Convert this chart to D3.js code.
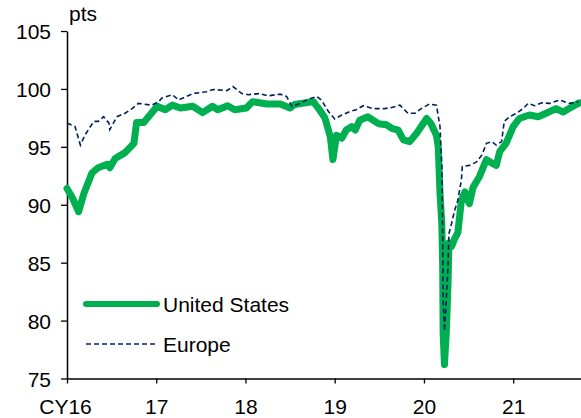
<!DOCTYPE html>
<html>
<head>
<meta charset="utf-8">
<script src="https://cdn.jsdelivr.net/npm/d3@7"></script>
<style>
  body { margin: 0; background: #fff; }
  svg text { font-family: "Liberation Sans", Arial, sans-serif; fill: #000; }
</style>
</head>
<body>
<div id="chart"></div>
<script>
// year fraction / value pairs
const usYears = [2016.00, 2016.06, 2016.13, 2016.19, 2016.28, 2016.35, 2016.45, 2016.48, 2016.54, 2016.65,
    2016.75, 2016.78, 2016.86, 2016.93, 2017.01, 2017.10, 2017.18, 2017.27, 2017.41, 2017.52,
    2017.63, 2017.69, 2017.80, 2017.88, 2018.01, 2018.08, 2018.24, 2018.39, 2018.50, 2018.55,
    2018.76, 2018.83, 2018.89, 2018.95, 2018.98, 2019.02, 2019.08, 2019.13, 2019.19, 2019.23,
    2019.28, 2019.37, 2019.49, 2019.58, 2019.64, 2019.71, 2019.77, 2019.84, 2019.92, 2020.03,
    2020.08, 2020.14, 2020.16, 2020.18, 2020.20, 2020.21, 2020.215, 2020.23, 2020.25, 2020.27,
    2020.28, 2020.31, 2020.34, 2020.38, 2020.42, 2020.46, 2020.49, 2020.51, 2020.55, 2020.62,
    2020.70, 2020.76, 2020.81, 2020.85, 2020.92, 2021.00, 2021.07, 2021.18, 2021.28, 2021.37,
    2021.48, 2021.56, 2021.67, 2021.74];
const usValues = [91.4, 90.6, 89.4, 91.0, 92.75, 93.2, 93.5, 93.2, 94.0, 94.5,
    95.3, 97.1, 97.1, 97.75, 98.5, 98.2, 98.6, 98.35, 98.5, 97.95,
    98.5, 98.2, 98.55, 98.2, 98.35, 98.9, 98.7, 98.7, 98.35, 98.65,
    98.9, 98.2, 97.5, 95.9, 93.9, 96.0, 95.75, 96.45, 96.75, 96.45,
    97.3, 97.6, 97.0, 96.9, 96.6, 96.45, 95.6, 95.45, 96.2, 97.45,
    97.0, 96.0, 95.0, 91.0, 88.4, 84.65, 78.9, 76.2, 78.9, 83.2,
    86.7, 86.4, 87.0, 87.6, 90.4, 91.1, 90.4, 90.1, 91.5, 92.4,
    93.9, 93.6, 93.4, 94.6, 95.3, 96.75, 97.45, 97.75, 97.6, 97.9,
    98.3, 98.0, 98.5, 98.8];

const euYears = [2016.00, 2016.09, 2016.15, 2016.20, 2016.30, 2016.35, 2016.41, 2016.47, 2016.48, 2016.56,
    2016.65, 2016.73, 2016.80, 2016.95, 2017.03, 2017.06, 2017.18, 2017.25, 2017.41, 2017.56,
    2017.64, 2017.79, 2017.86, 2017.96, 2018.03, 2018.16, 2018.25, 2018.39, 2018.46, 2018.52,
    2018.61, 2018.70, 2018.80, 2018.85, 2018.93, 2019.00, 2019.08, 2019.17, 2019.24, 2019.32,
    2019.43, 2019.56, 2019.64, 2019.73, 2019.82, 2019.90, 2019.97, 2020.06, 2020.14, 2020.18,
    2020.20, 2020.21, 2020.215, 2020.23, 2020.25, 2020.27, 2020.28, 2020.31, 2020.34, 2020.38,
    2020.42, 2020.43, 2020.51, 2020.59, 2020.65, 2020.70, 2020.76, 2020.81, 2020.87, 2020.90,
    2020.96, 2021.04, 2021.11, 2021.17, 2021.24, 2021.32, 2021.41, 2021.52, 2021.63, 2021.73];
const euValues = [97.05, 96.75, 95.15, 96.0, 97.2, 97.2, 97.6, 97.05, 96.5, 97.6,
    97.9, 98.3, 98.75, 98.6, 98.9, 99.2, 99.5, 99.05, 99.6, 99.75,
    99.95, 99.85, 100.2, 99.6, 99.5, 99.6, 99.4, 99.55, 99.35, 98.5,
    98.75, 99.1, 99.35, 99.05, 98.05, 97.4, 97.75, 98.05, 98.2, 98.55,
    98.3, 98.3, 98.4, 98.6, 97.9, 97.9, 98.3, 98.7, 98.6, 96.75,
    93.3, 87.55, 81.8, 79.1, 81.8, 84.65, 87.5, 88.4, 89.4, 90.4,
    92.15, 93.3, 93.4, 93.7, 94.3, 95.3, 95.45, 95.15, 95.45, 97.2,
    97.6, 97.9, 98.3, 98.75, 98.55, 98.8, 98.75, 99.05, 98.75, 98.9];

const yearTicks = [2016, 2017, 2018, 2019, 2020, 2021];
const yearLabels = ["CY16", "17", "18", "19", "20", "21"];
const valueTicks = [75, 80, 85, 90, 95, 100, 105];
const seriesNames = ["United States", "Europe"];

const W = 581, H = 418;
const margin = { top: 31, right: 0, bottom: 39.5, left: 67 };
const fontSize = 21;

const x = d3.scaleLinear().domain([2016, 2021.76]).range([margin.left, W - margin.right]);
const y = d3.scaleLinear().domain([75, 105]).range([H - margin.bottom, margin.top]);

const svg = d3.select("#chart").append("svg")
    .attr("width", W)
    .attr("height", H);

// x axis
const xAxis = d3.axisBottom(x)
    .tickValues(yearTicks)
    .tickFormat((d, i) => yearLabels[i])
    .tickSize(5)
    .tickSizeOuter(0);
const gx = svg.append("g")
    .attr("transform", `translate(0,${y(75)})`)
    .call(xAxis);
gx.select(".domain").attr("stroke", "#000").attr("stroke-width", 1.5);
gx.selectAll(".tick line").attr("stroke", "#000").attr("stroke-width", 1.3);
gx.selectAll(".tick text").attr("font-size", fontSize).attr("y", 21).attr("dx", (d, i) => i == 0 ? -2 : 0);

// y axis
const yAxis = d3.axisLeft(y)
    .tickValues(valueTicks)
    .tickSize(6)
    .tickSizeOuter(0);
const gy = svg.append("g")
    .attr("transform", `translate(${x(2016)},0)`)
    .call(yAxis);
gy.select(".domain").attr("stroke", "#000").attr("stroke-width", 1.5);
gy.selectAll(".tick line").attr("stroke", "#000").attr("stroke-width", 1.3);
gy.selectAll(".tick text").attr("font-size", fontSize).attr("x", -16).attr("dy", "0.38em");

svg.append("text")
    .attr("x", 69)
    .attr("y", 21)
    .attr("font-size", fontSize)
    .text("pts");

const line = d3.line()
    .x((d) => x(d[0]))
    .y((d) => y(d[1]));

const usData = usYears.map((t, i) => [t, usValues[i]]);
const euData = euYears.map((t, i) => [t, euValues[i]]);

svg.append("path")
    .datum(usData)
    .attr("d", line)
    .attr("fill", "none")
    .attr("stroke", "#00B050")
    .attr("stroke-width", 7)
    .attr("stroke-linejoin", "round")
    .attr("stroke-linecap", "round");

svg.append("path")
    .datum(euData)
    .attr("d", line)
    .attr("fill", "none")
    .attr("stroke", "#002060")
    .attr("stroke-width", 1.6)
    .attr("stroke-dasharray", "5,3");

// legend
const legend = svg.append("g").attr("transform", "translate(86,304)");
legend.append("line")
    .attr("x1", 0).attr("x2", 71).attr("y1", 0).attr("y2", 0)
    .attr("stroke", "#00B050").attr("stroke-width", 6).attr("stroke-linecap", "round");
legend.append("text").attr("x", 77).attr("y", 0).attr("dy", "0.38em")
    .attr("font-size", fontSize).text(seriesNames[0]);
legend.append("line")
    .attr("x1", 0).attr("x2", 71).attr("y1", 40).attr("y2", 40)
    .attr("stroke", "#002060").attr("stroke-width", 1.6).attr("stroke-dasharray", "5,3");
legend.append("text").attr("x", 77).attr("y", 40).attr("dy", "0.38em")
    .attr("font-size", fontSize).text(seriesNames[1]);
</script>
</body>
</html>
